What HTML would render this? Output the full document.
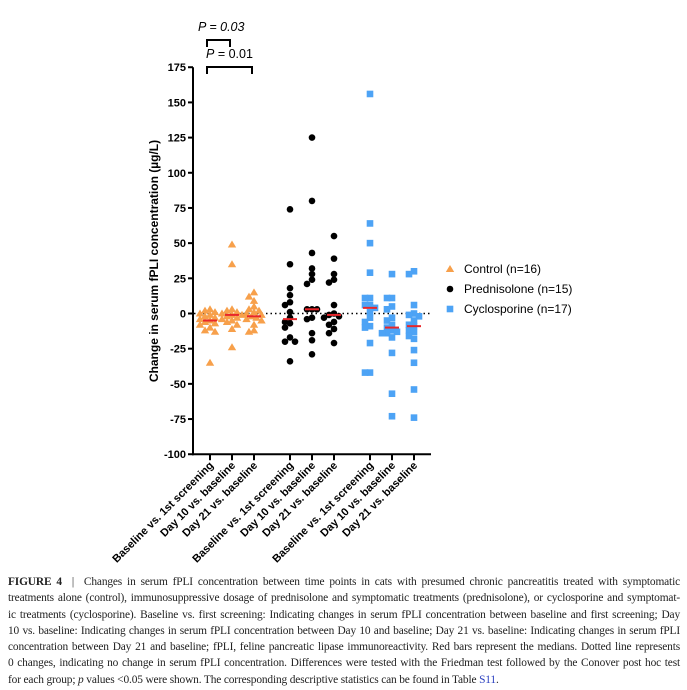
<!DOCTYPE html>
<html><head><meta charset="utf-8"><style>
body{margin:0;background:#fff;width:687px;height:690px;overflow:hidden;position:relative;font-family:"Liberation Sans",sans-serif}
#cap{position:absolute;left:8px;top:574px;width:672px;font-family:"Liberation Serif",serif;font-size:11.4px;line-height:16.3px;color:#222;letter-spacing:-0.15px}
#cap div{text-align:justify;text-align-last:justify;white-space:nowrap}
#cap div.last{text-align-last:left}
</style></head><body>
<svg id="chart" width="687" height="570" style="position:absolute;left:0;top:0" font-family="Liberation Sans, sans-serif"></svg>
<div id="cap">
<div><b>FIGURE 4</b> &nbsp;|&nbsp; Changes in serum fPLI concentration between time points in cats with presumed chronic pancreatitis treated with symptomatic</div>
<div>treatments alone (control), immunosuppressive dosage of prednisolone and symptomatic treatments (prednisolone), or cyclosporine and symptomat-</div>
<div>ic treatments (cyclosporine). Baseline vs. first screening: Indicating changes in serum fPLI concentration between baseline and first screening; Day</div>
<div>10 vs. baseline: Indicating changes in serum fPLI concentration between Day 10 and baseline; Day 21 vs. baseline: Indicating changes in serum fPLI</div>
<div>concentration between Day 21 and baseline; fPLI, feline pancreatic lipase immunoreactivity. Red bars represent the medians. Dotted line represents</div>
<div>0 changes, indicating no change in serum fPLI concentration. Differences were tested with the Friedman test followed by the Conover post hoc test</div>
<div class="last">for each group; <i>p</i> values &lt;0.05 were shown. The corresponding descriptive statistics can be found in Table <span style="color:#2a3fc0">S11</span>.</div>
</div>
<script>
const categories=["Baseline vs. 1st screening","Day 10 vs. baseline","Day 21 vs. baseline"];
const groups=["Control (n=16)","Prednisolone (n=15)","Cyclosporine (n=17)"];
const yTicks=[175,150,125,100,75,50,25,0,-25,-50,-75,-100];
const control=[[3,2,1,0,-1,-2,-3,-4,-5,-6,-7,-8,-10,-12,-13,-35],[49,35,3,2,1,0,-1,-1,-2,-3,-4,-5,-6,-8,-11,-24],[15,12,9,5,3,2,1,0,-1,-2,-3,-4,-5,-8,-12,-13]];
const prednisolone=[[74,35,18,13,8,6,1,-3,-6,-7,-10,-17,-20,-20,-34],[125,80,43,32,28,24,21,3,3,3,-3,-4,-14,-19,-29],[55,39,28,24,22,6,0,-1,-2,-3,-6,-8,-11,-14,-21]];
const cyclosporine=[[156,64,50,29,11,11,6,6,4,1,-3,-6,-9,-10,-21,-42,-42],[28,11,11,5,3,-3,-5,-8,-10,-12,-13,-14,-14,-17,-28,-57,-73],[30,28,6,0,-1,-2,-5,-8,-9,-12,-13,-16,-18,-26,-35,-54,-74]];
const medians=[[-5,-1,-2],[-4,3,-1],[4,-10,-9]];
const pLabels=["0.03","0.01"];

const svg=document.getElementById('chart');
const NS='http://www.w3.org/2000/svg';
function mk(t,a,txt){const e=document.createElementNS(NS,t);for(const k in a)e.setAttribute(k,a[k]);if(txt!=null)e.textContent=txt;svg.appendChild(e);return e;}
const y=v=>313.5-(v)*(387/275);
const xPos=(g,c)=>210+c*22+g*80;
let ax=mk('line',{x1:193,y1:y(175),x2:193,y2:y(-100)+1,stroke:'#000','stroke-width':2});

yTicks.forEach(t=>{
 let l=mk('line',{x1:188,y1:y(t),x2:193,y2:y(t),stroke:'#000','stroke-width':2});
 
 let tx=mk('text',{x:186,y:y(t)+4,'text-anchor':'end','font-size':11,'font-weight':'bold'},t);
 
});
let xa=mk('line',{x1:192,y1:y(-100),x2:431,y2:y(-100),stroke:'#000','stroke-width':2});

let yt=mk('text',{x:0,y:0,transform:'translate(158,261) rotate(-90)','text-anchor':'middle','font-size':12,'font-weight':'bold'},'Change in serum fPLI concentration (µg/L)');

let zl=mk('line',{x1:194,y1:y(0),x2:431,y2:y(0),stroke:'#000','stroke-width':1.5,'stroke-dasharray':'1.5,3'});

for(let g=0;g<3;g++)for(let c=0;c<3;c++){
 const x=xPos(g,c);
 let l=mk('line',{x1:x,y1:y(-100),x2:x,y2:y(-100)+6,stroke:'#000','stroke-width':2});
 
 let t=mk('text',{x:0,y:0,transform:`translate(${x+4},${466}) rotate(-45)`,'text-anchor':'end','font-size':11,'font-weight':'bold'},categories[c]);
 
}
const colors=['#f7a04b','#000','#4da3f5'];
const all=[control,prednisolone,cyclosporine];
function marker(g,cx,cy){
 let e;
 if(g===0)e=mk('polygon',{points:`${cx},${cy-4} ${cx-4.2},${cy+3} ${cx+4.2},${cy+3}`,fill:colors[0]});
 else if(g===1)e=mk('circle',{cx:cx,cy:cy,r:3.3,fill:colors[1]});
 else e=mk('rect',{x:cx-3.3,y:cy-3.3,width:6.6,height:6.6,fill:colors[2]});
 return e;
}
const cands=[0,-5,5,-2.5,2.5,-7.5,7.5,-10,10];
all.forEach((grp,g)=>grp.forEach((vals,c)=>{
 const cx0=xPos(g,c);const placed=[];
 vals.forEach(v=>{
  const py=y(v);let off=0;
  for(const o of cands){
   if(placed.every(p=>Math.hypot(p[0]-o,p[1]-py)>=4.5)){off=o;break;}
   off=o;
  }
  placed.push([off,py]);
  const e=marker(g,cx0+off,py);
  
 });
 const m=mk('line',{x1:cx0-7,y1:y(medians[g][c]),x2:cx0+7,y2:y(medians[g][c]),stroke:'#e8262a','stroke-width':2});
 
}));
groups.forEach((n,i)=>{
 const ly=269+i*20;
 const e=marker(i,450,ly);
 
 const t=mk('text',{x:464,y:ly+4,'font-size':12},n);
 
});
[[232,31,40,'italic'],[254,58,67,'normal']].forEach((b,i)=>{
 const p=mk('path',{d:`M207,${b[2]+7}V${b[2]}H${b[0]-2}V${b[2]+7}`,fill:'none',stroke:'#000','stroke-width':2});
 
 const t=mk('text',{x:i?206:198,y:b[1],'font-size':12.5,'font-style':b[3]});
 t.innerHTML=`<tspan font-style="italic">P</tspan> = ${pLabels[i]}`;
 
});
</script>
</body></html>
